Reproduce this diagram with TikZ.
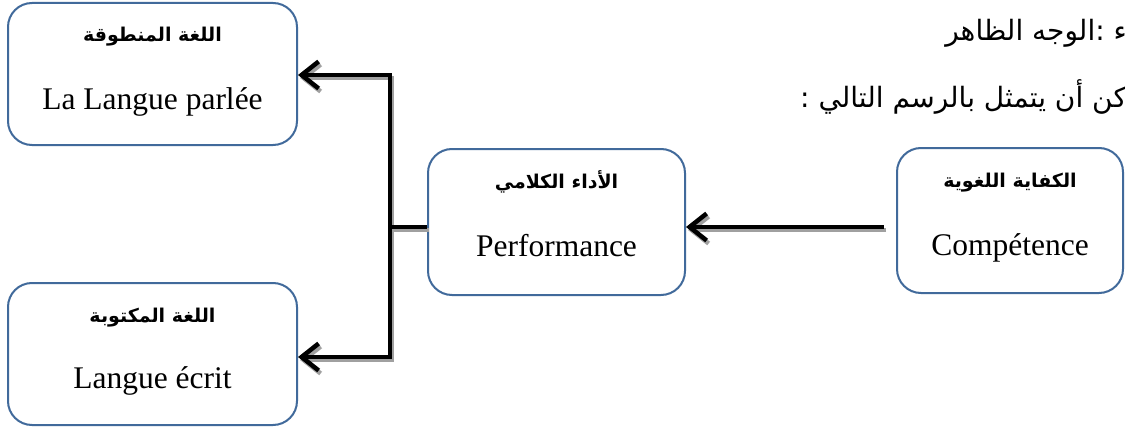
\documentclass[tikz,border=0pt]{standalone}
\usepackage{fontspec}
\setmainfont{Liberation Serif}
\newfontfamily\arabicfont[Script=Arabic]{DejaVu Sans}
\TeXXeTstate=1
\usetikzlibrary{arrows.meta}
\definecolor{boxblue}{RGB}{65,106,155}
\definecolor{shadowgray}{RGB}{160,160,160}
\tikzset{
  box/.style={draw=boxblue, line width=2pt, rounded corners=24pt, fill=white, inner sep=0pt},
  conn/.style={draw=black, line width=4.5pt, line join=miter},
  connshadow/.style={draw=shadowgray, line width=4.5pt, transform canvas={xshift=2pt,yshift=-3pt}},
  tip/.tip={Straight Barb[length=17pt,width=27pt]},
  artitle/.style={anchor=base, inner sep=0pt, font=\arabicfont\bfseries\fontsize{19}{23}\selectfont},
  latext/.style={anchor=base, inner sep=0pt, font=\fontsize{31.5}{36}\selectfont},
  header/.style={anchor=base east, inner sep=0pt, font=\arabicfont\fontsize{28}{32}\selectfont}
}
\begin{document}
\begin{tikzpicture}[x=1pt,y=-1pt]
\useasboundingbox[fill=white] (0,0) rectangle (1125,428);
\begin{scope}
\clip (0,0) rectangle (1125,428);
% header text
\node[header] (h1) at (1127,41) {\beginR ء :الوجه الظاهر\endR};
\node[header] (h2) at (1127,107) {\beginR كن أن يتمثل بالرسم التالي :\endR};
% boxes
\node[box, minimum width=289pt, minimum height=142pt] (b1) at (152.5,74) {};
\node[box, minimum width=289pt, minimum height=142pt] (b3) at (152.5,354) {};
\node[box, minimum width=257pt, minimum height=146pt] (perf) at (556.5,222) {};
\node[box, minimum width=226pt, minimum height=145pt] (comp) at (1010,220.5) {};
% texts
\node[artitle] (b1a) at (152.5,42) {\beginR اللغة المنطوقة\endR};
\node[latext] (b1l) at (152.5,110) {La Langue parlée};
\node[artitle] (b3a) at (152.5,322) {\beginR اللغة المكتوبة\endR};
\node[latext] (b3l) at (152.5,388) {Langue écrit};
\node[artitle] (perfa) at (556.5,188) {\beginR الأداء الكلامي\endR};
\node[latext] (perfl) at (556.5,256) {Performance};
\node[artitle] (compa) at (1010,187) {\beginR الكفاية اللغوية\endR};
\node[latext] (compl) at (1010,255) {Compétence};
% connectors
\coordinate (jt) at (390,75);
\coordinate (jm) at (390,227);
\coordinate (jb) at (390,357);
\coordinate (cs) at (884,227);
\draw[connshadow, {tip}-{tip}] (b1.east |- jt) -- (jt) -- (jb) -- (b3.east |- jb);
\draw[connshadow] (jm) -- (perf.west |- jm);
\draw[connshadow, -{tip}] (cs) -- (perf.east |- cs);
\draw[conn, {tip}-{tip}] (b1.east |- jt) -- (jt) -- (jb) -- (b3.east |- jb);
\draw[conn] (jm) -- (perf.west |- jm);
\draw[conn, -{tip}] (cs) -- (perf.east |- cs);
\end{scope}
\end{tikzpicture}
\end{document}
